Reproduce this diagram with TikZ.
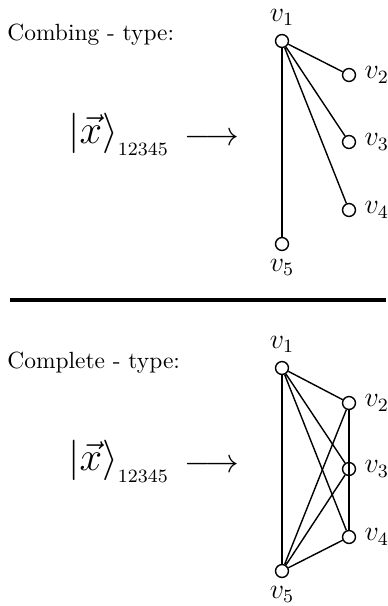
\documentclass[tikz,border=0pt]{standalone}
\usetikzlibrary{positioning}

\begin{document}
\begin{tikzpicture}[
  x=0.15mm, y=-0.15mm,
  every node/.style={inner sep=0pt},
  label distance=3.4pt,
  every label/.style={font=\large},
  vtx/.style={circle, draw, fill=white, line width=0.6pt, minimum size=5.5pt},
  thin edge/.style={line width=0.6pt},
  thick edge/.style={line width=1.25pt},
]
\useasboundingbox (0,0) rectangle (388,606);

%% ---- Combing - type ----
\node[anchor=base west] (combT) at (7,40) {Combing - type:};
\node[anchor=base west] (ketA) at (68,143)
  {{\LARGE$|\vec{x}\rangle$}\raisebox{-5.5pt}{\footnotesize 12345}};
\node[anchor=base west] (mapA) at (184,145) {\fontsize{13.7}{16}\selectfont$\longrightarrow$};

\node[vtx, label=above:$v_1$] (a1) at (282,41) {};
\node[vtx, label=right:$v_2$] (a2) at (349,75) {};
\node[vtx, label=right:$v_3$] (a3) at (349,142) {};
\node[vtx, label=right:$v_4$] (a4) at (349,210) {};
\node[vtx, label=below:$v_5$] (a5) at (282,244) {};

\draw[thick edge] (a1) -- (a5);
\draw[thin edge] (a1) -- (a2) (a1) -- (a3) (a1) -- (a4);

%% separating rule
\draw[line width=1.4pt] (10,300) -- (386,300);

%% ---- Complete - type ----
\node[anchor=base west] (compT) at (7,368) {Complete - type:};
\node[anchor=base west] (ketB) at (68,470)
  {{\LARGE$|\vec{x}\rangle$}\raisebox{-5.5pt}{\footnotesize 12345}};
\node[anchor=base west] (mapB) at (184,472) {\fontsize{13.7}{16}\selectfont$\longrightarrow$};

\node[vtx, label=above:$v_1$] (b1) at (282,368) {};
\node[vtx, label=right:$v_2$] (b2) at (349,403) {};
\node[vtx, label=right:$v_3$] (b3) at (349,469) {};
\node[vtx, label=right:$v_4$] (b4) at (349,537) {};
\node[vtx, label=below:$v_5$] (b5) at (282,571) {};

\draw[thick edge] (b1) -- (b5) (b2) -- (b4);
\draw[thin edge] (b1) -- (b2) (b1) -- (b3) (b1) -- (b4);
\draw[thin edge] (b5) -- (b2) (b5) -- (b3) (b5) -- (b4);

\end{tikzpicture}
\end{document}
